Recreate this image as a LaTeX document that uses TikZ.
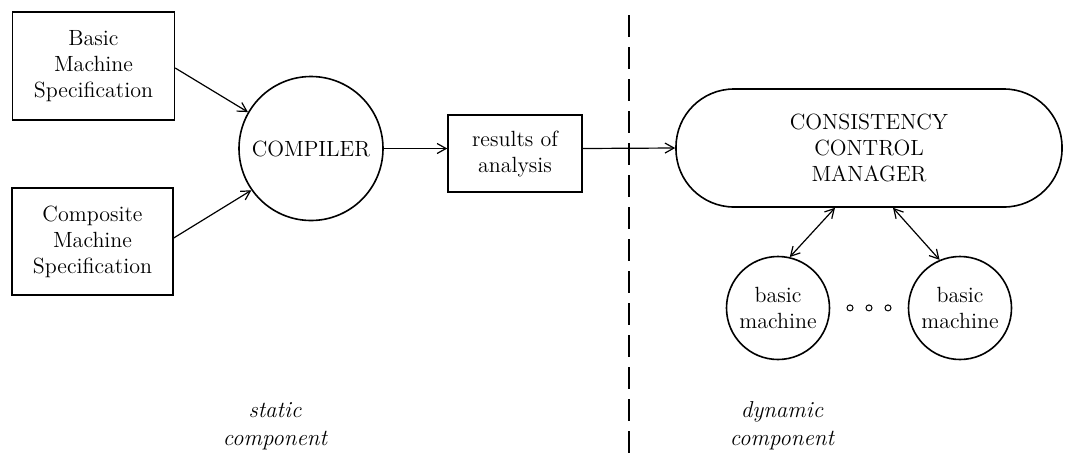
\documentclass[tikz,border=0pt]{standalone}
\usetikzlibrary{arrows.meta}
\begin{document}
\begin{tikzpicture}[x=0.5pt,y=-0.5pt,
  font=\fontsize{11}{13}\selectfont,
  every node/.style={align=center},
  specbox/.style={draw,line width=0.7pt,inner sep=0pt,minimum width=81pt,minimum height=54pt},
  procircle/.style={draw,circle,line width=0.8pt,inner sep=0pt},
  flow/.style={line width=0.6pt,-{Straight Barb[length=4.5pt,width=5pt,line width=0.6pt]}},
  link/.style={line width=0.6pt,{Straight Barb[length=4.5pt,width=5pt,line width=0.6pt]}-{Straight Barb[length=4.5pt,width=5pt,line width=0.6pt]}},
  caption/.style={font=\fontsize{11.5}{14}\selectfont\itshape}]
\useasboundingbox (0,0) rectangle (1065,456);

% static part: specifications, compiler, analysis results
\node[specbox] (basic) at (93.5,66) {Basic\\Machine\\Specification};
\node[specbox,minimum width=80.5pt,minimum height=53.5pt] (comp) at (92.5,241.5) {Composite\\Machine\\Specification};
\node[procircle,minimum size=72pt] (compiler) at (311,148.5) {COMPILER};
\node[draw,line width=0.7pt,inner sep=0pt,minimum width=67pt,minimum height=38.5pt] (res) at (515,153.5) {results of\\analysis};

% dynamic part: manager and basic machines
\node[draw,line width=0.8pt,rounded corners=29pt,inner sep=0pt,minimum width=193pt,minimum height=59pt] (ccm) at (869,148) {CONSISTENCY\\CONTROL\\MANAGER};
\node[procircle,minimum size=51.5pt] (bm1) at (778,308) {basic\\machine};
\node[procircle,minimum size=51.5pt] (bm2) at (960,308) {basic\\machine};
\node[inner sep=0pt] (dots) at (869,309) {%
  \tikz[baseline=-0.6ex]{\foreach \i in {0,1,2} \draw[line width=0.5pt] (\i*9.5pt,0) circle (1.5pt);}};

% separator between the static and the dynamic component
\coordinate (septop) at (629,15);
\coordinate (sepbot) at (629,456);
\draw[line width=1pt,dash pattern=on 11pt off 5pt] (septop) -- (sepbot);

% connectors
\draw[flow] (basic.east |- 0,68) -- (compiler.150);
\draw[flow] (comp.east |- 0,238) -- (compiler.215);
\draw[flow] (compiler.east) -- (compiler.east -| res.west);
\draw[flow] (res.east |- compiler.east) -- (ccm.west);
\draw[link] (bm1.77) -- (ccm.south -| 835,0);
\draw[link] (bm2.113) -- (ccm.south -| 893,0);

% captions
\node[caption] (stat) at (275,426) {static\\component};
\node[caption] (dyn) at (782,426) {dynamic\\component};
\end{tikzpicture}
\end{document}
